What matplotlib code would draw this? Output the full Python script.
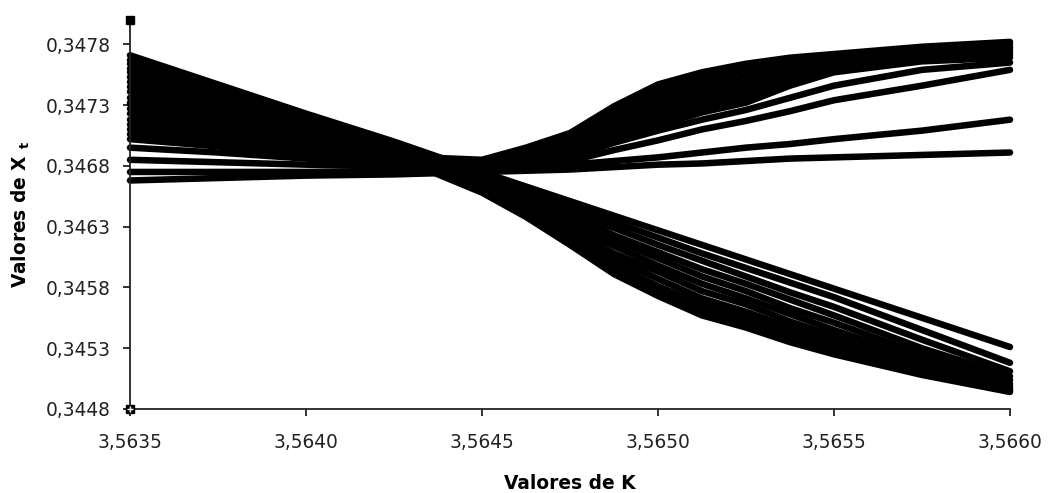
import matplotlib.pyplot as plt

# K values (x) shared by all series
k_vals = [3.5635, 3.56375, 3.5640, 3.56425, 3.5645, 3.564625, 3.56475, 3.564875,
          3.5650, 3.565125, 3.56525, 3.565375, 3.5655, 3.56575, 3.5660]

# series that fall to the lower bundle
d1 = [0.34771, 0.34747, 0.34723, 0.34700, 0.34675, 0.34663, 0.34651, 0.34639, 0.34627, 0.34615, 0.34603, 0.34591, 0.34579, 0.34555, 0.34531]
d2 = [0.34767, 0.34744, 0.34721, 0.34697, 0.34673, 0.34660, 0.34647, 0.34634, 0.34621, 0.34608, 0.34596, 0.34584, 0.34572, 0.34545, 0.34518]
d3 = [0.34764, 0.34741, 0.34718, 0.34695, 0.34672, 0.34657, 0.34643, 0.34629, 0.34615, 0.34602, 0.34589, 0.34576, 0.34564, 0.34537, 0.34511]
d4 = [0.34760, 0.34739, 0.34717, 0.34695, 0.34670, 0.34655, 0.34640, 0.34623, 0.34609, 0.34595, 0.34583, 0.34570, 0.34557, 0.34530, 0.34507]
d5 = [0.34757, 0.34736, 0.34715, 0.34693, 0.34668, 0.34653, 0.34635, 0.34619, 0.34604, 0.34589, 0.34577, 0.34563, 0.34551, 0.34525, 0.34504]
d6 = [0.34753, 0.34733, 0.34713, 0.34692, 0.34667, 0.34650, 0.34631, 0.34614, 0.34598, 0.34583, 0.34571, 0.34558, 0.34545, 0.34521, 0.34501]
d7 = [0.34749, 0.34730, 0.34710, 0.34691, 0.34665, 0.34647, 0.34627, 0.34608, 0.34593, 0.34577, 0.34566, 0.34552, 0.34540, 0.34518, 0.34499]
d8 = [0.34745, 0.34727, 0.34709, 0.34690, 0.34663, 0.34645, 0.34624, 0.34604, 0.34587, 0.34571, 0.34560, 0.34547, 0.34536, 0.34515, 0.34497]
d9 = [0.34741, 0.34724, 0.34707, 0.34690, 0.34662, 0.34642, 0.34621, 0.34599, 0.34581, 0.34566, 0.34555, 0.34542, 0.34532, 0.34512, 0.34496]
d10 = [0.34736, 0.34721, 0.34705, 0.34689, 0.34660, 0.34640, 0.34617, 0.34594, 0.34576, 0.34561, 0.34550, 0.34538, 0.34529, 0.34510, 0.34495]
d11 = [0.34732, 0.34718, 0.34703, 0.34688, 0.34658, 0.34638, 0.34615, 0.34591, 0.34573, 0.34557, 0.34547, 0.34535, 0.34525, 0.34508, 0.34494]

# series that rise to the upper bundle
u1 = [0.34731, 0.34716, 0.34702, 0.34688, 0.34685, 0.34695, 0.34707, 0.34729, 0.34747, 0.34757, 0.34764, 0.34769, 0.34772, 0.34778, 0.34782]
u2 = [0.34727, 0.34713, 0.34700, 0.34687, 0.34684, 0.34693, 0.34704, 0.34725, 0.34742, 0.34752, 0.34759, 0.34765, 0.34769, 0.34776, 0.34780]
u3 = [0.34723, 0.34710, 0.34698, 0.34686, 0.34683, 0.34691, 0.34702, 0.34721, 0.34737, 0.34747, 0.34754, 0.34761, 0.34767, 0.34774, 0.34778]
u4 = [0.34718, 0.34708, 0.34696, 0.34686, 0.34682, 0.34690, 0.34700, 0.34718, 0.34732, 0.34742, 0.34749, 0.34757, 0.34764, 0.34773, 0.34777]
u5 = [0.34714, 0.34704, 0.34695, 0.34685, 0.34681, 0.34688, 0.34697, 0.34714, 0.34727, 0.34737, 0.34744, 0.34754, 0.34762, 0.34771, 0.34775]
u6 = [0.34710, 0.34702, 0.34693, 0.34684, 0.34681, 0.34686, 0.34695, 0.34710, 0.34723, 0.34732, 0.34739, 0.34750, 0.34760, 0.34769, 0.34773]
u7 = [0.34706, 0.34699, 0.34691, 0.34683, 0.34680, 0.34685, 0.34692, 0.34706, 0.34718, 0.34728, 0.34736, 0.34748, 0.34759, 0.34768, 0.34771]
u8 = [0.34702, 0.34696, 0.34690, 0.34682, 0.34679, 0.34683, 0.34690, 0.34703, 0.34713, 0.34724, 0.34732, 0.34746, 0.34757, 0.34766, 0.34769]
u9 = [0.34695, 0.34691, 0.34686, 0.34681, 0.34678, 0.34682, 0.34687, 0.34699, 0.34709, 0.34718, 0.34726, 0.34736, 0.34746, 0.34759, 0.34765]
u10 = [0.34685, 0.34683, 0.34681, 0.34680, 0.34677, 0.34680, 0.34684, 0.34693, 0.34701, 0.34710, 0.34717, 0.34725, 0.34734, 0.34746, 0.34759]
u11 = [0.34675, 0.34675, 0.34675, 0.34676, 0.34677, 0.34679, 0.34681, 0.34684, 0.34687, 0.34691, 0.34695, 0.34698, 0.34702, 0.34709, 0.34718]
u12 = [0.34668, 0.34670, 0.34672, 0.34673, 0.34675, 0.34676, 0.34677, 0.34679, 0.34681, 0.34682, 0.34684, 0.34686, 0.34687, 0.34689, 0.34691]

y_ticks = [0.3448, 0.3453, 0.3458, 0.3463, 0.3468, 0.3473, 0.3478]
x_ticks = [3.5635, 3.5640, 3.5645, 3.5650, 3.5655, 3.5660]

plt.rcParams['font.family'] = 'DejaVu Sans'

fig = plt.figure(figsize=(10.5, 4.93), dpi=100)
ax = fig.add_axes([0.1238, 0.1704, 0.8381, 0.789])

all_series = [d1, d2, d3, d4, d5, d6, d7, d8, d9, d10, d11,
              u1, u2, u3, u4, u5, u6, u7, u8, u9, u10, u11, u12]
for s in all_series:
    ax.plot(k_vals, s, color="black", lw=4.7, solid_capstyle="round",
            solid_joinstyle="round", clip_on=False)

# the little square markers on the value axis
ax.plot([3.5635], [0.3480], marker="s", ms=6, color="black", clip_on=False, zorder=5)
ax.plot([3.5635], [0.3448], marker="s", ms=6, color="black", clip_on=False, zorder=5)
ax.plot([3.5635], [0.3448], marker="+", ms=5, mew=1, color="white", clip_on=False, zorder=6)

ax.set_xlim(3.5635, 3.5660)
ax.set_ylim(0.3448, 0.3480)
ax.set_xticks(x_ticks)
ax.set_yticks(y_ticks)
ax.set_xticklabels([("%.4f" % v).replace(".", ",") for v in x_ticks])
ax.set_yticklabels([("%.4f" % v).replace(".", ",") for v in y_ticks])

for side in ["top", "right"]:
    ax.spines[side].set_visible(False)
for side in ["left", "bottom"]:
    ax.spines[side].set_linewidth(1.3)
    ax.spines[side].set_color("#222222")

ax.tick_params(axis="both", direction="out", length=5, width=1.3, color="#222222",
               labelsize=13.4, labelcolor="#222222")
ax.tick_params(axis="y", pad=9)
ax.tick_params(axis="x", pad=12)

ax.set_xlabel("Valores de K", fontsize=13.4, fontweight="bold", labelpad=16)
ax.set_ylabel(r"Valores de X $_{\mathbf{t}}$", fontsize=13.4, fontweight="bold", labelpad=10)

fig.savefig("out.png", dpi=100)
